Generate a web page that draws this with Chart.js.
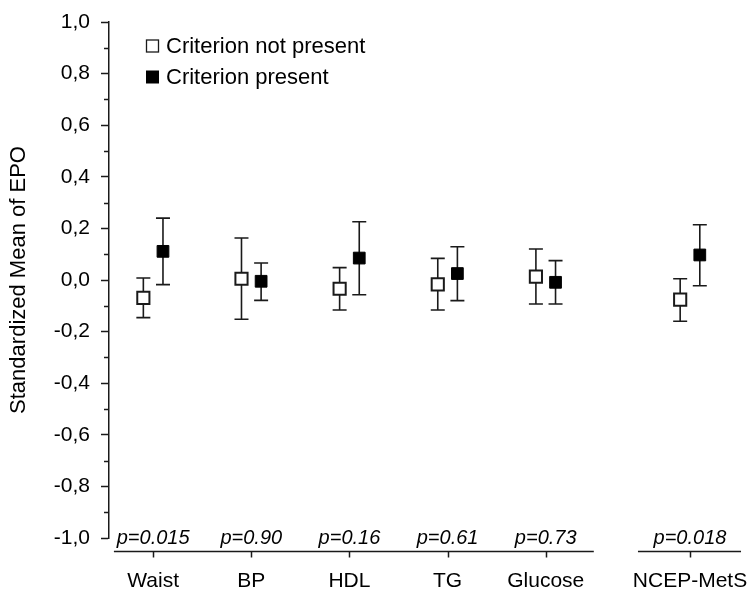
<!DOCTYPE html>
<html><head><meta charset="utf-8">
<script src="https://cdn.jsdelivr.net/npm/chart.js@4/dist/chart.umd.min.js"></script>
<style>html,body{margin:0;padding:0;background:#fff}canvas{display:block}</style>
</head><body>
<canvas id="c" width="756" height="591"></canvas>
<script>
// ---- data ----
const categories = ['Waist', 'BP', 'HDL', 'TG', 'Glucose', 'NCEP-MetS'];
const categoryPositions = [1, 2, 3, 4, 5, 6.47];
const pValues = ['p=0.015', 'p=0.90', 'p=0.16', 'p=0.61', 'p=0.73', 'p=0.018'];
const notPresentMean  = [-0.069,  0.005, -0.034, -0.017,  0.013, -0.076];
const notPresentLower = [-0.146, -0.152, -0.116, -0.116, -0.093, -0.160];
const notPresentUpper = [ 0.008,  0.163,  0.048,  0.084,  0.120,  0.005];
const presentMean  = [ 0.111, -0.005,  0.085,  0.025, -0.009,  0.097];
const presentLower = [-0.018, -0.079, -0.057, -0.080, -0.093, -0.022];
const presentUpper = [ 0.240,  0.066,  0.226,  0.129,  0.075,  0.214];
const yTickValues = [-1, -0.8, -0.6, -0.4, -0.2, 0, 0.2, 0.4, 0.6, 0.8, 1];
const yTickLabels = ['-1,0', '-0,8', '-0,6', '-0,4', '-0,2', '0,0', '0,2', '0,4', '0,6', '0,8', '1,0'];
const yMinorTickValues = [-0.9, -0.7, -0.5, -0.3, -0.1, 0.1, 0.3, 0.5, 0.7, 0.9];
const seriesNames = ['Criterion not present', 'Criterion present'];

// ---- layout constants ----
const FONT = "'Liberation Sans', Arial, sans-serif";
const groupOffset = 0.1;
const axisGroups = [[0.6, 5.49], [5.94, 6.99]];

const errorData = [
  { lower: notPresentLower, upper: notPresentUpper },
  { lower: presentLower, upper: presentUpper }
];

const customPlugin = {
  id: 'custom',
  beforeDatasetsDraw(chart) {
    const ctx = chart.ctx;
    const xs = chart.scales.x, ys = chart.scales.y;
    ctx.save();
    ctx.strokeStyle = '#1a1a1a';
    ctx.lineWidth = 1.6;
    chart.data.datasets.forEach((ds, di) => {
      const e = errorData[di];
      ds.data.forEach((pt, i) => {
        const x = xs.getPixelForValue(pt.x);
        const yl = ys.getPixelForValue(e.lower[i]);
        const yu = ys.getPixelForValue(e.upper[i]);
        ctx.beginPath();
        ctx.moveTo(x, yl); ctx.lineTo(x, yu);
        ctx.moveTo(x - 7, yl); ctx.lineTo(x + 7, yl);
        ctx.moveTo(x - 7, yu); ctx.lineTo(x + 7, yu);
        ctx.stroke();
      });
    });
    ctx.restore();
  },
  afterDraw(chart) {
    const ctx = chart.ctx;
    const xs = chart.scales.x, ys = chart.scales.y;
    const area = chart.chartArea;
    ctx.save();
    ctx.strokeStyle = '#1a1a1a';
    ctx.lineWidth = 1.5;
    // minor y ticks
    yMinorTickValues.forEach(v => {
      const y = Math.round(ys.getPixelForValue(v)) + 0.5;
      ctx.beginPath(); ctx.moveTo(area.left - 5, y); ctx.lineTo(area.left, y); ctx.stroke();
    });
    // x axis segments
    const axisY = area.bottom + 13.5;
    axisGroups.forEach(g => {
      ctx.beginPath();
      ctx.moveTo(xs.getPixelForValue(g[0]), axisY);
      ctx.lineTo(xs.getPixelForValue(g[1]), axisY);
      ctx.stroke();
    });
    categoryPositions.forEach(v => {
      const x = Math.round(xs.getPixelForValue(v)) + 0.5;
      ctx.beginPath(); ctx.moveTo(x, axisY); ctx.lineTo(x, axisY + 6); ctx.stroke();
    });
    // p-values
    ctx.fillStyle = '#000';
    ctx.font = 'italic 20px ' + FONT;
    ctx.textAlign = 'center';
    ctx.textBaseline = 'alphabetic';
    pValues.forEach((p, i) => {
      ctx.fillText(p, xs.getPixelForValue(categoryPositions[i]), area.bottom + 6);
    });
    // legend
    ctx.font = '22px ' + FONT;
    ctx.textAlign = 'left';
    ctx.textBaseline = 'middle';
    const lx = 146, ly = [46, 77], sz = 13;
    ctx.lineWidth = 1.3;
    ctx.fillStyle = '#fff';
    ctx.fillRect(lx, ly[0] - sz / 2, sz, sz);
    ctx.strokeRect(lx + 0.5, ly[0] - sz / 2 + 0.5, sz - 1, sz - 1);
    ctx.fillStyle = '#000';
    ctx.fillRect(lx, ly[1] - sz / 2, sz, sz);
    ctx.fillText(seriesNames[0], 166, ly[0] + 1);
    ctx.fillText(seriesNames[1], 166, ly[1] + 1);
    ctx.restore();
  }
};

new Chart(document.getElementById('c'), {
  type: 'scatter',
  data: {
    datasets: [
      {
        label: seriesNames[0],
        data: notPresentMean.map((v, i) => ({ x: categoryPositions[i] - groupOffset, y: v })),
        pointStyle: 'rect', pointRadius: 8.6, pointHoverRadius: 8.6,
        backgroundColor: '#fff', borderColor: '#1a1a1a', borderWidth: 2
      },
      {
        label: seriesNames[1],
        data: presentMean.map((v, i) => ({ x: categoryPositions[i] + groupOffset, y: v })),
        pointStyle: 'rect', pointRadius: 8.3, pointHoverRadius: 8.3,
        backgroundColor: '#000', borderColor: '#000', borderWidth: 1
      }
    ]
  },
  options: {
    responsive: false,
    animation: false,
    devicePixelRatio: 1,
    layout: { padding: { top: 22, right: 14, bottom: 0, left: 0 } },
    plugins: { legend: { display: false }, tooltip: { enabled: false } },
    events: [],
    scales: {
      x: {
        type: 'linear', min: 0.55, max: 7.0,
        afterBuildTicks: s => { s.ticks = categoryPositions.map(v => ({ value: v })); },
        afterFit: s => { s.height = 53; s.paddingLeft = 0; s.paddingRight = 0; },
        grid: { display: false, drawTicks: false },
        border: { display: false },
        ticks: {
          autoSkip: false, maxRotation: 0, padding: 31, color: '#000',
          font: { family: FONT, size: 21 },
          callback: (v, i) => categories[i]
        }
      },
      y: {
        type: 'linear', min: -1, max: 1,
        afterBuildTicks: s => { s.ticks = yTickValues.map(v => ({ value: v })); },
        afterFit: s => { s.width = 109; s.paddingTop = 0; s.paddingBottom = 0; },
        grid: { display: true, drawOnChartArea: false, drawTicks: true, tickLength: 8, tickColor: '#1a1a1a', tickWidth: 1.5 },
        border: { display: true, color: '#1a1a1a', width: 1.5 },
        ticks: {
          padding: 11, color: '#000',
          font: { family: FONT, size: 21 },
          callback: (v, i) => yTickLabels[i]
        },
        title: {
          display: true, text: 'Standardized Mean of EPO', color: '#000',
          font: { family: FONT, size: 22 },
          padding: { top: 6, bottom: 0 }
        }
      }
    }
  },
  plugins: [customPlugin]
});
</script>
</body></html>
